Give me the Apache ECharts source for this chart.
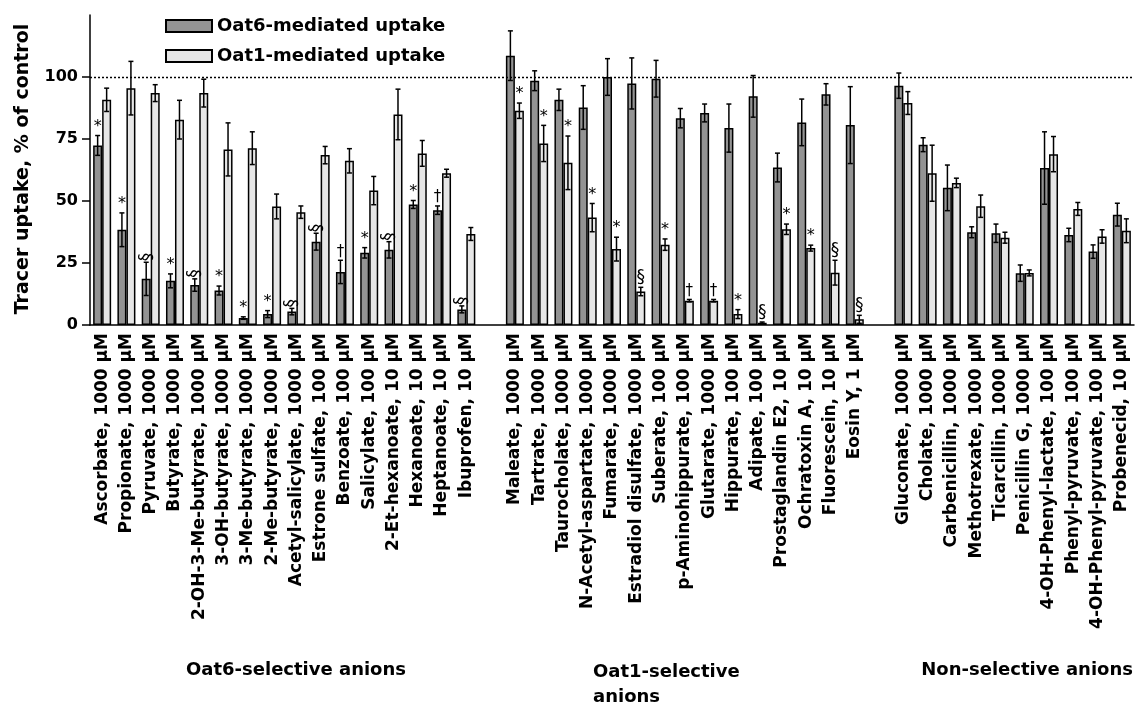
<!DOCTYPE html>
<html>
<head>
<meta charset="utf-8">
<script src="https://cdn.jsdelivr.net/npm/echarts@6/dist/echarts.min.js"></script>
<style>html,body{margin:0;padding:0;background:#fff;}#c{width:1136px;height:704px;}</style>
</head>
<body>
<div id="c"></div>
<script>
// ---------- DATA ----------
const oat6SelNames = ['Ascorbate, 1000 μM','Propionate, 1000 μM','Pyruvate, 1000 μM','Butyrate, 1000 μM','2-OH-3-Me-butyrate, 1000 μM','3-OH-butyrate, 1000 μM','3-Me-butyrate, 1000 μM','2-Me-butyrate, 1000 μM','Acetyl-salicylate, 1000 μM','Estrone sulfate, 100 μM','Benzoate, 100 μM','Salicylate, 100 μM','2-Et-hexanoate, 10 μM','Hexanoate, 10 μM','Heptanoate, 10 μM','Ibuprofen, 10 μM'];
const oat1SelNames = ['Maleate, 1000 μM','Tartrate, 1000 μM','Taurocholate, 1000 μM','N-Acetyl-aspartate, 1000 μM','Fumarate, 1000 μM','Estradiol disulfate, 1000 μM','Suberate, 100 μM','p-Aminohippurate, 100 μM','Glutarate, 1000 μM','Hippurate, 100 μM','Adipate, 100 μM','Prostaglandin E2, 10 μM','Ochratoxin A, 10 μM','Fluorescein, 10 μM','Eosin Y, 1 μM'];
const nonSelNames = ['Gluconate, 1000 μM','Cholate, 1000 μM','Carbenicillin, 1000 μM','Methotrexate, 1000 μM','Ticarcillin, 1000 μM','Penicillin G, 1000 μM','4-OH-Phenyl-lactate, 100 μM','Phenyl-pyruvate, 100 μM','4-OH-Phenyl-pyruvate, 100 μM','Probenecid, 10 μM'];

// Oat6-mediated uptake (mean, SEM)
const oat6Group1 = [72.4, 38.4, 18.6, 17.8, 16.1, 13.9, 2.8, 4.4, 5.4, 33.6, 21.4, 29.1, 30.3, 48.6, 46.3, 6.3];
const oat6Err1   = [4.0, 6.8, 6.7, 2.8, 2.5, 1.8, 0.5, 1.4, 1.3, 3.4, 4.7, 2.1, 3.3, 1.6, 1.7, 1.4];
const oat6Group2 = [108.6, 98.5, 90.8, 87.7, 100.0, 97.4, 99.3, 83.4, 85.5, 79.4, 92.2, 63.5, 81.7, 93.0, 80.6];
const oat6Err2   = [10.0, 4.0, 4.3, 8.8, 7.4, 10.3, 7.4, 3.9, 3.6, 9.7, 8.4, 5.8, 9.4, 4.3, 15.5];
const oat6Group3 = [96.5, 72.7, 55.3, 37.4, 37.0, 20.9, 63.3, 36.3, 29.6, 44.5];
const oat6Err3   = [5.1, 2.8, 9.2, 2.2, 3.7, 3.3, 14.6, 2.7, 2.7, 4.6];

// Oat1-mediated uptake (mean, SEM)
const oat1Group1 = [90.8, 95.5, 93.5, 82.8, 93.5, 70.8, 71.3, 47.8, 45.5, 68.5, 66.2, 54.2, 84.9, 69.2, 61.2, 36.7];
const oat1Err1   = [4.7, 10.8, 3.4, 7.8, 5.6, 10.7, 6.6, 5.0, 2.5, 3.5, 4.9, 5.7, 10.2, 5.2, 1.6, 2.6];
const oat1Group2 = [86.4, 73.2, 65.4, 43.3, 30.6, 13.5, 32.4, 9.8, 9.8, 4.4, 0.9, 38.6, 31.0, 21.1, 2.3];
const oat1Err2   = [3.1, 7.3, 10.8, 5.7, 4.8, 1.7, 2.3, 0.5, 0.5, 1.8, 0.3, 2.1, 1.2, 5.0, 1.6];
const oat1Group3 = [89.5, 61.2, 57.3, 47.9, 35.2, 21.0, 68.9, 46.8, 35.7, 38.0];
const oat1Err3   = [4.6, 11.3, 1.9, 4.5, 2.2, 1.2, 7.1, 2.6, 2.7, 4.8];

// significance marks
const oat6Marks1 = ['*','*','§','*','§','*','*','*','§','§','†','*','§','*','†','§'];
const oat6Marks2 = ['','','','','','','','','','','','','','',''];
const oat6Marks3 = ['','','','','','','','','',''];
const oat1Marks1 = ['','','','','','','','','','','','','','','',''];
const oat1Marks2 = ['*','*','*','*','*','§','*','†','†','*','§','*','*','§','§'];
const oat1Marks3 = ['','','','','','','','','',''];

const yTicks = [0, 25, 50, 75, 100];
const groupTitles = ['Oat6-selective anions', 'Oat1-selective\nanions', 'Non-selective anions'];
const seriesNames = ['Oat6-mediated uptake', 'Oat1-mediated uptake'];

// ---------- BUILD ----------
const GAP = [null];
const categories = [].concat(oat6SelNames, [''], oat1SelNames, [''], nonSelNames);
const groupOf = [].concat(oat6SelNames.map(()=>0), [-1], oat1SelNames.map(()=>1), [-1], nonSelNames.map(()=>2));
const oat6 = [].concat(oat6Group1, GAP, oat6Group2, GAP, oat6Group3);
const oat6E = [].concat(oat6Err1, GAP, oat6Err2, GAP, oat6Err3);
const oat1 = [].concat(oat1Group1, GAP, oat1Group2, GAP, oat1Group3);
const oat1E = [].concat(oat1Err1, GAP, oat1Err2, GAP, oat1Err3);
const oat6M = [].concat(oat6Marks1, [''], oat6Marks2, [''], oat6Marks3);
const oat1M = [].concat(oat1Marks1, [''], oat1Marks2, [''], oat1Marks3);

const FONT = 'DejaVu Sans';
const BAR_W = 9;

function errData(means, errs) {
  const d = [];
  means.forEach((m, i) => { if (m !== null) d.push([i, m, errs[i]]); });
  return d;
}

function makeErrRender(offset, marks) {
  return function (params, api) {
    const i = api.value(0), m = api.value(1), e = api.value(2);
    const top = api.coord([i, m + e]);
    const bot = api.coord([i, Math.max(m - e, 0)]);
    const x = top[0] + offset;
    const cap = 2.5;
    const children = [
      { type: 'line', shape: { x1: x, y1: top[1], x2: x, y2: bot[1] }, style: { stroke: '#000', lineWidth: 1.5 } },
      { type: 'line', shape: { x1: x - cap, y1: top[1], x2: x + cap, y2: top[1] }, style: { stroke: '#000', lineWidth: 1.5 } },
      { type: 'line', shape: { x1: x - cap, y1: bot[1], x2: x + cap, y2: bot[1] }, style: { stroke: '#000', lineWidth: 1.5 } }
    ];
    const mk = marks[i];
    if (mk) {
      const rotated = (mk === '§' && groupOf[i] === 0);
      if (rotated) {
        children.push({ type: 'text', x: x, y: top[1] - 1, rotation: Math.PI / 2,
          style: { text: mk, fill: '#000', font: '17px "' + FONT + '"', textAlign: 'left', textVerticalAlign: 'middle' } });
      } else {
        const size = mk === '*' ? '16px' : (mk === '§' ? '17px' : '15px');
        children.push({ type: 'text', x: x, y: top[1] - 1,
          style: { text: mk, fill: '#000', font: size + ' "' + FONT + '"', textAlign: 'center', textVerticalAlign: 'bottom' } });
      }
    }
    return { type: 'group', children: children };
  };
}

const chart = echarts.init(document.getElementById('c'), null, { renderer: 'canvas' });
chart.setOption({
  animation: false,
  backgroundColor: '#fff',
  grid: { left: 90, right: 2, top: 15, bottom: 379, containLabel: false },
  legend: {
    orient: 'vertical', left: 160, top: 12, itemWidth: 46, itemHeight: 12, itemGap: 12,
    icon: 'rect',
    data: seriesNames,
    textStyle: { fontFamily: FONT, fontWeight: 'bold', fontSize: 18, color: '#000', lineHeight: 18 }
  },
  xAxis: {
    type: 'category', data: categories,
    axisLine: { lineStyle: { color: '#000', width: 1.5 } },
    axisTick: { show: false },
    axisLabel: { interval: 0, rotate: 90, margin: 8, color: '#000', fontFamily: FONT, fontWeight: 'bold', fontSize: 17 }
  },
  yAxis: {
    type: 'value', min: 0, max: 125, interval: 25,
    axisLine: { show: true, lineStyle: { color: '#000', width: 1.5 } },
    axisTick: { show: true, length: 8, lineStyle: { color: '#000', width: 1.5 }, customValues: yTicks },
    axisLabel: { customValues: yTicks, margin: 12, color: '#000', fontFamily: FONT, fontWeight: 'bold', fontSize: 16 },
    splitLine: { show: false }
  },
  series: [
    {
      name: seriesNames[0], type: 'bar', data: oat6, barWidth: BAR_W, barGap: '0%',
      itemStyle: { color: '#939393', borderColor: '#000', borderWidth: 1.5 },
      markLine: {
        silent: true, symbol: 'none', label: { show: false },
        lineStyle: { type: [2, 2], color: '#000', width: 1.3 },
        data: [{ yAxis: 100 }]
      }
    },
    {
      name: seriesNames[1], type: 'bar', data: oat1, barWidth: BAR_W, barGap: '0%',
      itemStyle: { color: '#e6e6e6', borderColor: '#000', borderWidth: 1.5 }
    },
    { type: 'custom', z: 5, data: errData(oat6, oat6E), renderItem: makeErrRender(-BAR_W / 2, oat6M), encode: { x: 0, y: 1 } },
    { type: 'custom', z: 5, data: errData(oat1, oat1E), renderItem: makeErrRender(BAR_W / 2, oat1M), encode: { x: 0, y: 1 } }
  ],
  graphic: [
    { type: 'text', x: 23, y: 169, rotation: Math.PI / 2,
      style: { text: 'Tracer uptake, % of control', fill: '#000', font: 'bold 19px "' + FONT + '"', textAlign: 'center', textVerticalAlign: 'middle' } },
    { type: 'text', x: 296, y: 670,
      style: { text: groupTitles[0], fill: '#000', font: 'bold 18px "' + FONT + '"', textAlign: 'center', textVerticalAlign: 'middle' } },
    { type: 'text', x: 593, y: 660,
      style: { text: groupTitles[1], fill: '#000', font: 'bold 18px "' + FONT + '"', textAlign: 'left', textVerticalAlign: 'top', lineHeight: 25 } },
    { type: 'text', x: 1133, y: 670,
      style: { text: groupTitles[2], fill: '#000', font: 'bold 18px "' + FONT + '"', textAlign: 'right', textVerticalAlign: 'middle' } }
  ]
});
</script>
</body>
</html>
